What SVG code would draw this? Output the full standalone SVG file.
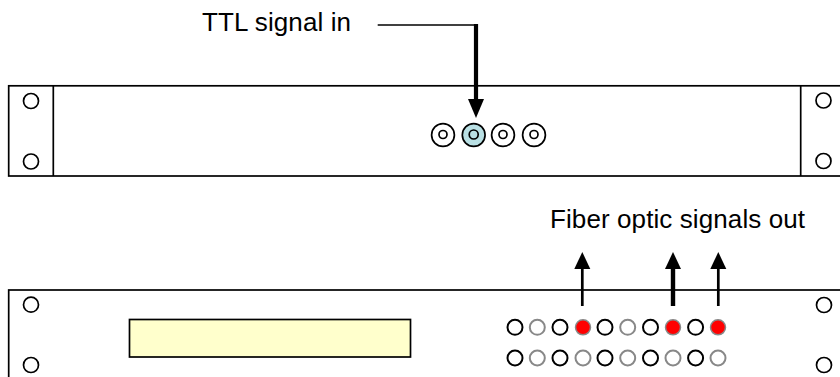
<svg xmlns="http://www.w3.org/2000/svg" width="840" height="377" viewBox="0 0 840 377">
<style>
.panel{fill:#fff;stroke:#000;stroke-width:1.7}
.line{fill:none;stroke:#000;stroke-width:1.7}
.hole{fill:#fff;stroke:#000;stroke-width:1.7}
.k{fill:#fff;stroke:#000;stroke-width:2}
.g{fill:#fff;stroke:#888;stroke-width:2}
.r{fill:#f00;stroke:#888;stroke-width:1.500}
.t{font-family:"Liberation Sans",Arial,sans-serif;font-size:26px;fill:#000}
</style>
<defs>
<marker id="a" markerUnits="userSpaceOnUse" markerWidth="20" markerHeight="18" refX="0" refY="8" orient="auto"><path d="M0 0L19 8L0 16Z" fill="#000"/></marker>
<marker id="b" markerUnits="userSpaceOnUse" markerWidth="18" markerHeight="18" refX="0" refY="8" orient="auto"><path d="M0 0L17 8L0 16Z" fill="#000"/></marker>
</defs>
<rect width="840" height="377" fill="#fff"/>
<g id="rear-panel">
<rect class="panel" x="8.700" y="85.800" width="850" height="90.200"/>
<path class="line" d="M53.300 86V176M800.700 86V176"/>
<circle class="hole" cx="31" cy="101" r="7.500"/><circle class="hole" cx="31" cy="161.500" r="7.500"/>
<circle class="hole" cx="823.500" cy="100.500" r="7.500"/><circle class="hole" cx="823.500" cy="161" r="7.500"/>
</g>
<g id="bnc-connectors">
<circle class="hole" cx="443" cy="135" r="11.400"/><circle class="hole" cx="443" cy="134.500" r="4"/>
<circle class="hole" cx="473.700" cy="135" r="11.400" style="fill:#b9e0e4"/><circle class="hole" cx="473.700" cy="134.500" r="4.500" style="fill:#b9e0e4"/>
<circle class="hole" cx="503" cy="135" r="11.400"/><circle class="hole" cx="503" cy="134.500" r="4"/>
<circle class="hole" cx="534" cy="135" r="11.400"/><circle class="hole" cx="534" cy="134.500" r="4"/>
</g>
<g id="front-panel">
<rect class="panel" x="8.700" y="290" width="850" height="110"/>
<rect x="129.500" y="319.500" width="281" height="37.500" fill="#ffffcc" stroke="#000" stroke-width="1.700"/>
<circle class="hole" cx="31" cy="304.700" r="7.500"/><circle class="hole" cx="31" cy="365" r="7.500"/>
<circle class="hole" cx="824" cy="305" r="7.500"/><circle class="hole" cx="824" cy="365" r="7.500"/>
</g>
<g id="fiber-ports">
<circle class="k" cx="515" cy="327.300" r="7.500"/><circle class="g" cx="537.300" cy="327.300" r="7.500"/><circle class="k" cx="560" cy="327.300" r="7.500"/><circle class="r" cx="583" cy="327.300" r="7.500"/><circle class="k" cx="605" cy="327.300" r="7.500"/><circle class="g" cx="627.700" cy="327.300" r="7.500"/><circle class="k" cx="650.500" cy="327.300" r="7.500"/><circle class="r" cx="673" cy="327.300" r="7.500"/><circle class="k" cx="695.600" cy="327.300" r="7.500"/><circle class="r" cx="718" cy="327.300" r="7.500"/>
<circle class="k" cx="515" cy="358" r="7.500"/><circle class="g" cx="537.300" cy="358" r="7.500"/><circle class="k" cx="560" cy="358" r="7.500"/><circle class="g" cx="583" cy="358" r="7.500"/><circle class="k" cx="605" cy="358" r="7.500"/><circle class="g" cx="627.700" cy="358" r="7.500"/><circle class="k" cx="650.500" cy="358" r="7.500"/><circle class="g" cx="673" cy="358" r="7.500"/><circle class="k" cx="695.600" cy="358" r="7.500"/><circle class="g" cx="718" cy="358" r="7.500"/>
</g>
<g id="connectors">
<path class="line" d="M377.700 25H476"/>
<path d="M476 24V99" fill="none" stroke="#000" stroke-width="4.200" marker-end="url(#a)"/>
<path d="M582.300 306V269" fill="none" stroke="#000" stroke-width="2.700" marker-end="url(#b)"/>
<path d="M673 306V269" fill="none" stroke="#000" stroke-width="4.400" marker-end="url(#b)"/>
<path d="M718.300 306V269" fill="none" stroke="#000" stroke-width="2.700" marker-end="url(#b)"/>
</g>
<text class="t" x="202" y="31" textLength="149" lengthAdjust="spacing">TTL signal in</text>
<text class="t" x="550" y="228" textLength="255" lengthAdjust="spacing">Fiber optic signals out</text>
</svg>
